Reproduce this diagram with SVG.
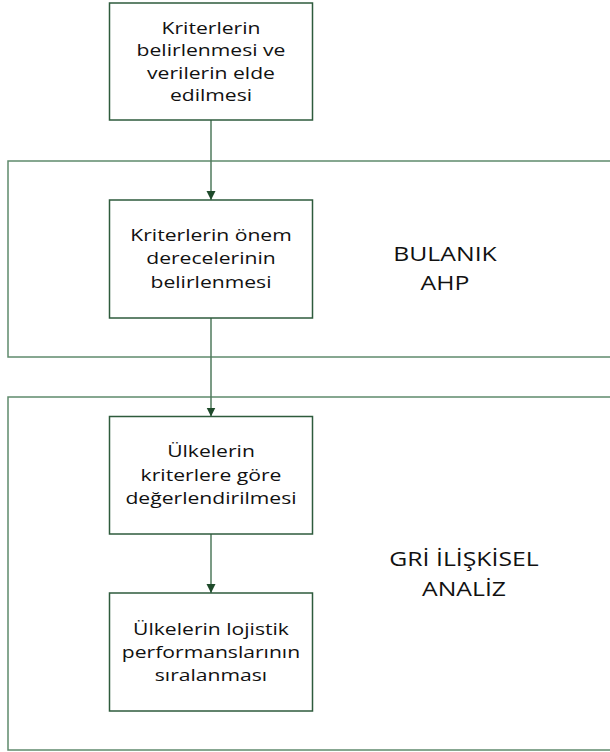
<svg xmlns="http://www.w3.org/2000/svg" width="610" height="752" viewBox="0 0 610 752">
<style>
.box{fill:#ffffff;stroke:#2e5b3c;stroke-width:1.5}
.grp{fill:none;stroke:#5f8a6c;stroke-width:1.5}
.con{stroke:#4f7a5d;stroke-width:1.5;fill:none}
.t{font-family:"Open Sans","Liberation Sans",sans-serif;font-size:16.5px;fill:#111;text-anchor:middle}
.lbl{font-family:"Open Sans","Liberation Sans",sans-serif;font-size:20px;fill:#111;text-anchor:middle}
</style>
<defs>
<marker id="ah" markerUnits="userSpaceOnUse" markerWidth="10" markerHeight="10" refX="9" refY="5" orient="auto">
<path d="M0,0.5 L9,5 L0,9.5 Z" fill="#1e4a2a"/>
</marker>
</defs>
<g id="bulanik-ahp">
<rect class="grp" x="8" y="161" width="620" height="196"/>
<text class="lbl" transform="translate(445 0) scale(1.24 1)" x="0" y="261">BULANIK</text>
<text class="lbl" transform="translate(445 0) scale(1.24 1)" x="0" y="290.5">AHP</text>
</g>
<g id="gri-iliskisel-analiz">
<rect class="grp" x="8" y="397" width="620" height="353"/>
<text class="lbl" transform="translate(464 0) scale(1.24 1)" x="0" y="566">GRİ İLİŞKİSEL</text>
<text class="lbl" transform="translate(464 0) scale(1.24 1)" x="0" y="596.5">ANALİZ</text>
</g>
<g id="connectors">
<line class="con" x1="211" y1="120" x2="211" y2="200" marker-end="url(#ah)"/>
<line class="con" x1="211" y1="318" x2="211" y2="416.5" marker-end="url(#ah)"/>
<line class="con" x1="211" y1="534" x2="211" y2="593" marker-end="url(#ah)"/>
</g>
<g id="n1">
<rect class="box" x="109.5" y="3" width="203" height="117"/>
<g transform="translate(211 0) scale(1.28 1)">
<text class="t" x="0" y="34">Kriterlerin</text>
<text class="t" x="0" y="56.5">belirlenmesi ve</text>
<text class="t" x="0" y="79">verilerin elde</text>
<text class="t" x="0" y="101">edilmesi</text>
</g>
</g>
<g id="n2">
<rect class="box" x="109.5" y="200" width="203" height="118"/>
<g transform="translate(211 0) scale(1.28 1)">
<text class="t" x="0" y="241">Kriterlerin önem</text>
<text class="t" x="0" y="264.5">derecelerinin</text>
<text class="t" x="0" y="288">belirlenmesi</text>
</g>
</g>
<g id="n3">
<rect class="box" x="109.5" y="416.5" width="203" height="117.5"/>
<g transform="translate(211 0) scale(1.28 1)">
<text class="t" x="0" y="457.5">Ülkelerin</text>
<text class="t" x="0" y="481">kriterlere göre</text>
<text class="t" x="0" y="504.5">değerlendirilmesi</text>
</g>
</g>
<g id="n4">
<rect class="box" x="109.5" y="593" width="203" height="118"/>
<g transform="translate(211 0) scale(1.28 1)">
<text class="t" x="0" y="635">Ülkelerin lojistik</text>
<text class="t" x="0" y="658">performanslarının</text>
<text class="t" x="0" y="681">sıralanması</text>
</g>
</g>
</svg>
